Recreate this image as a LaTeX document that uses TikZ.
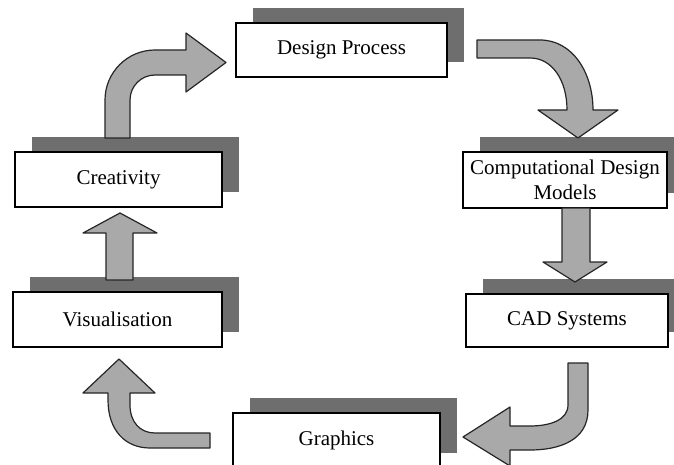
\documentclass[tikz,border=0pt]{standalone}
\usepackage{fontspec}
\setmainfont{Liberation Serif}
\usetikzlibrary{shadows}

\definecolor{shadowgray}{HTML}{6E6E6E}
\definecolor{arrowgray}{HTML}{A9A9A9}

\tikzset{
  stage/.style={draw=black, line width=1.4pt, fill=white, inner sep=0pt,
    minimum width=207pt, minimum height=55pt, align=center,
    font=\fontsize{21}{25}\selectfont,
    drop shadow={shadow xshift=17pt, shadow yshift=15pt, opacity=1, fill=shadowgray}},
  blockarrow/.style={draw=black!85, line width=1.2pt, fill=arrowgray, line join=round}
}

\begin{document}
\begin{tikzpicture}[x=1pt, y=-1pt]
  \clip (0,0) rectangle (674,465);
  \fill[white] (0,0) rectangle (674,465);

  % process stages
  \node[stage, minimum width=211pt, minimum height=54pt] (design) at (341.5,50) {Design Process};
  \node[stage, minimum width=204pt, minimum height=56pt] (models) at (565,180) {Computational Design\\Models};
  \node[stage, minimum width=202pt, minimum height=53pt] (cad) at (567,320.5) {CAD Systems};
  \node[stage, minimum width=207pt] (graphics) at (336.5,440.5) {Graphics};
  \node[stage, minimum width=209pt] (visual) at (117.5,319.5) {Visualisation};
  \node[stage, minimum width=207pt] (creativity) at (118.5,179.5) {Creativity};

  % creativity -> design process (bent arrow)
  \draw[blockarrow] (105,138) -- (105,100) .. controls (105,72.4) and (127.4,50) .. (155,50)
    -- (186,50) -- (186,33) -- (226,62.5) -- (186,92) -- (186,75) -- (155,75)
    .. controls (141.2,75) and (130,86.2) .. (130,100) -- (130,138) -- cycle;

  % design process -> computational design models
  \draw[blockarrow] (477,40) -- (540,40) .. controls (572,40) and (593,72) .. (593,110)
    -- (618,110) -- (578,138) -- (538,110) -- (567,110)
    .. controls (567,80) and (552,58) .. (530,58) -- (477,58) -- cycle;

  % computational design models -> CAD systems
  \draw[blockarrow] (562,208) -- (590,208) -- (590,262) -- (607,262) -- (575,282)
    -- (543,262) -- (562,262) -- cycle;

  % CAD systems -> graphics
  \draw[blockarrow] (568,363) -- (588,363) -- (588,410) .. controls (588,440) and (560,450) .. (530,450)
    -- (510,450) -- (510,466) -- (463,437) -- (510,407) -- (510,426) -- (530,426)
    .. controls (550,426) and (568,420) .. (568,405) -- cycle;

  % graphics -> visualisation
  \draw[blockarrow] (210,433) -- (210,448) -- (150,448) .. controls (125,448) and (108,430) .. (108,400)
    -- (108,393) -- (83,393) -- (119,359) -- (155,393) -- (130,393) -- (130,405)
    .. controls (130,422) and (140,433) .. (155,433) -- cycle;

  % visualisation -> creativity
  \draw[blockarrow] (106,280) -- (106,233) -- (83,233) -- (120,213) -- (157,233)
    -- (133,233) -- (133,280) -- cycle;
\end{tikzpicture}
\end{document}
